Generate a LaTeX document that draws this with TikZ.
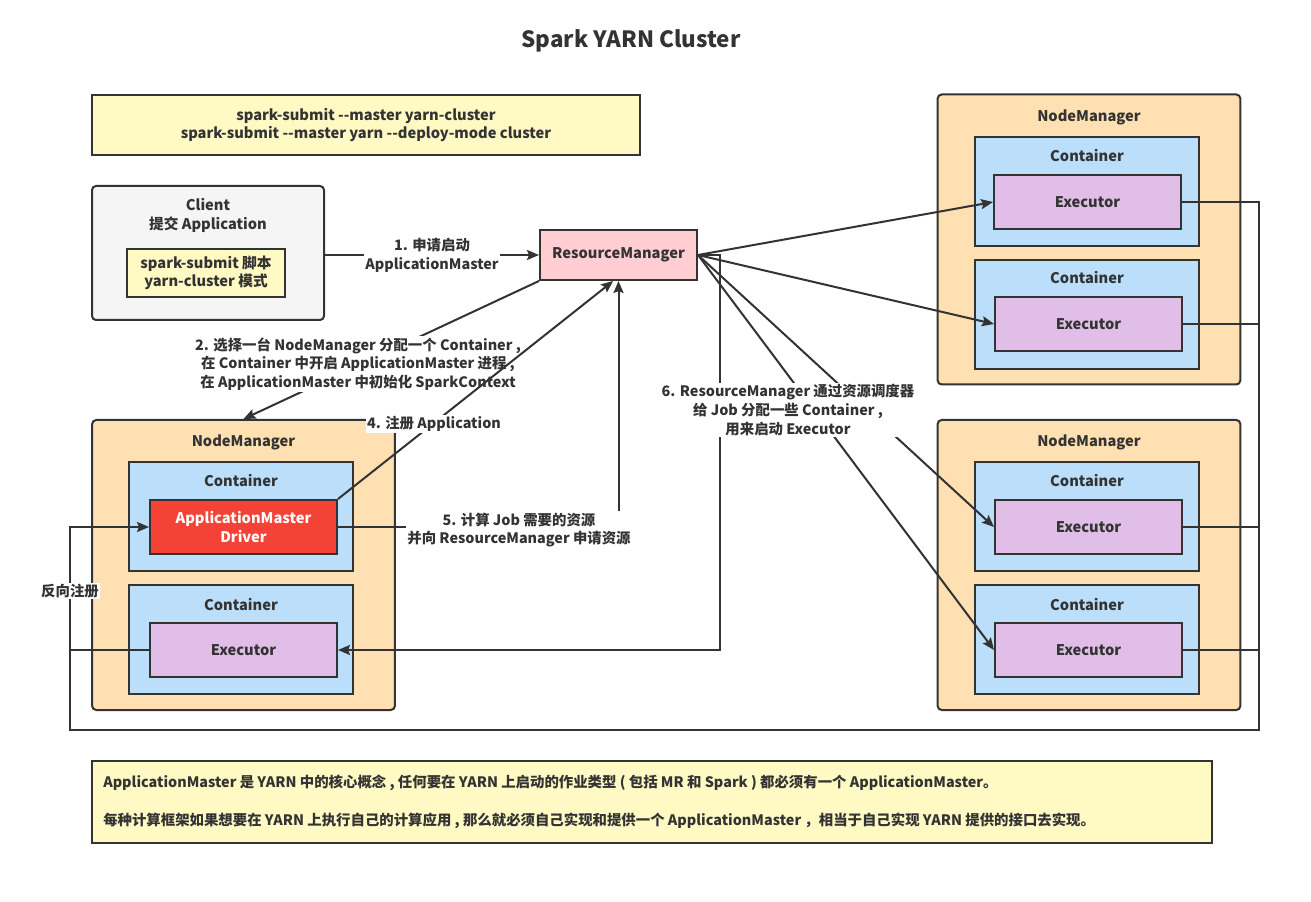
\documentclass[tikz,border=0pt]{standalone}
\usepackage{fontspec}
\setmainfont{Noto Sans CJK SC}
\usetikzlibrary{arrows.meta}

\definecolor{darkline}{HTML}{333333}
\definecolor{paleyellow}{HTML}{FFF9C4}
\definecolor{clientgray}{HTML}{F5F5F5}
\definecolor{rmpink}{HTML}{FFCDD2}
\definecolor{nmorange}{HTML}{FFE0B2}
\definecolor{contblue}{HTML}{BBDEFB}
\definecolor{amred}{HTML}{F44336}
\definecolor{execpurple}{HTML}{E1BEE7}

\newcommand\dashes{\mbox{-}\mbox{-}}

\begin{document}
\begin{tikzpicture}[
  x=0.75pt, y=-0.75pt,
  box/.style={draw=darkline, line width=1.5pt, inner sep=0pt, align=center,
    text=darkline, font=\bfseries\fontsize{11}{14}\selectfont},
  round box/.style={box, rounded corners=3pt},
  nm box/.style={round box, fill=nmorange, minimum width=227pt, minimum height=217.5pt},
  cont box/.style={box, fill=contblue, minimum width=168pt, minimum height=81.75pt},
  exec box/.style={box, fill=execpurple, minimum width=140.25pt, minimum height=40.5pt},
  box title/.style={text=darkline, inner sep=0pt, align=center, font=\bfseries\fontsize{11}{14}\selectfont},
  step label/.style={fill=white, inner sep=1pt, text=darkline, align=center,
    font=\bfseries\fontsize{10.8}{14}\selectfont},
  note text/.style={anchor=west, inner sep=0pt, text=darkline, font=\bfseries\fontsize{10.8}{12}\selectfont},
  conn/.style={draw=darkline, line width=1.5pt},
  arrow line/.style={conn, -{Stealth[length=9pt, width=7.5pt, inset=1.5pt]}}
  ]
  \fill[white] (0,0) rectangle (1311,902);
  \useasboundingbox (0,0) rectangle (1311,902);

  \node[text=darkline, font=\bfseries\fontsize{16.8}{20}\selectfont] (title) at (631,41) {Spark YARN Cluster};

  % submit command and client
  \node[box, fill=paleyellow, minimum width=411pt, minimum height=45pt] (cmd) at (366,125)
    {spark-submit \dashes master yarn-cluster\\spark-submit \dashes master yarn \dashes deploy-mode cluster};
  \node[round box, fill=clientgray, minimum width=174pt, minimum height=100.5pt] (client) at (208,253) {};
  \node[box title] (clientname) at (208,215.5) {Client\\提交 Application};
  \node[box, fill=paleyellow, minimum width=118.5pt, minimum height=36pt] (script) at (206,273)
    {spark-submit 脚本\\yarn-cluster 模式};

  \node[box, fill=rmpink, minimum width=117.75pt, minimum height=37.5pt] (rm) at (618.5,255) {ResourceManager};

  % left NodeManager (driver side)
  \node[nm box] (nml) at (243.5,565) {};
  \node[box title] (nmlname) at (243.5,442) {NodeManager};
  \node[cont box] (contla) at (241,516.5) {};
  \node[box title] (contlaname) at (241,481) {Container};
  \node[box, fill=amred, text=white, minimum width=140.25pt, minimum height=40.5pt] (am) at (243.5,527)
    {ApplicationMaster\\Driver};
  \node[cont box] (contlb) at (241,639.5) {};
  \node[box title] (contlbname) at (241,605) {Container};
  \node[exec box] (exl) at (243.5,650) {Executor};

  % right NodeManager, top
  \node[nm box] (nmra) at (1089,239.5) {};
  \node[box title] (nmraname) at (1089,117) {NodeManager};
  \node[cont box] (contra) at (1087,191.5) {};
  \node[box title] (contraname) at (1087,156) {Container};
  \node[exec box] (exra) at (1087.5,202) {Executor};
  \node[cont box] (contrb) at (1087,314.5) {};
  \node[box title] (contrbname) at (1087,278) {Container};
  \node[exec box] (exrb) at (1088.5,324) {Executor};

  % right NodeManager, bottom
  \node[nm box] (nmrb) at (1089,565) {};
  \node[box title] (nmrbname) at (1089,442) {NodeManager};
  \node[cont box] (contrc) at (1087,516.5) {};
  \node[box title] (contrcname) at (1087,481) {Container};
  \node[exec box] (exrc) at (1088.5,527) {Executor};
  \node[cont box] (contrd) at (1087,639.5) {};
  \node[box title] (contrdname) at (1087,605) {Container};
  \node[exec box] (exrd) at (1088.5,650) {Executor};

  % note at the bottom
  \node[box, fill=paleyellow, minimum width=840pt, minimum height=61.5pt] (note) at (652,802) {};
  \node[note text] (notea) at (103,783) {ApplicationMaster 是 YARN 中的核心概念 , 任何要在 YARN 上启动的作业类型 ( 包括 MR 和 Spark ) 都必须有一个 ApplicationMaster。};
  \node[note text] (noteb) at (103,821) {每种计算框架如果想要在 YARN 上执行自己的计算应用 , 那么就必须自己实现和提供一个 ApplicationMaster ，相当于自己实现 YARN 提供的接口去实现。};

  % steps 1 and 2
  \draw[arrow line] (client.east |- rm.west) -- (rm.west);
  \node[step label] (stepa) at (432,255) {1. 申请启动\\ApplicationMaster};
  \draw[arrow line] (rm.south west) -- (nml.north);
  \node[step label] (stepb) at (358,364) {2. 选择一台 NodeManager 分配一个 Container ,\\在 Container 中开启 ApplicationMaster 进程 ,\\在 ApplicationMaster 中初始化 SparkContext};

  % steps 4 and 5
  \draw[arrow line] (am.north east) -- ([xshift=-4pt]rm.south);
  \node[step label] (stepd) at (434,424) {4. 注册 Application};
  \draw[arrow line] (am.east) -- (rm.south |- am.east) -- (rm.south);
  \node[step label] (stepe) at (519,530) {5. 计算 Job 需要的资源\\并向 ResourceManager 申请资源};

  % step 6
  \draw[arrow line] (rm.east) -- (exra.west);
  \draw[arrow line] (rm.east) -- (exrb.west);
  \draw[arrow line] (rm.east) -- (exrc.west);
  \draw[arrow line] (rm.east) -- (exrd.west);
  \draw[arrow line] (rm.east) -| (720,650) -- (exl.east);
  \node[step label] (stepf) at (788,410) {6. ResourceManager 通过资源调度器\\给 Job 分配一些 Container ,\\用来启动 Executor};

  % executors register back to the driver
  \coordinate (loopr) at (1259,730);
  \coordinate (loopl) at (70,730);
  \draw[arrow line] (exra.east) -| (loopr) -- (loopl) |- (am.west);
  \draw[conn] (exrb.east) -- (exrb.east -| loopr);
  \draw[conn] (exrc.east) -- (exrc.east -| loopr);
  \draw[conn] (exrd.east) -- (exrd.east -| loopr);
  \draw[conn] (exl.west) -- (exl.west -| loopl);
  \node[step label] (back) at (70,591) {反向注册};
\end{tikzpicture}
\end{document}
